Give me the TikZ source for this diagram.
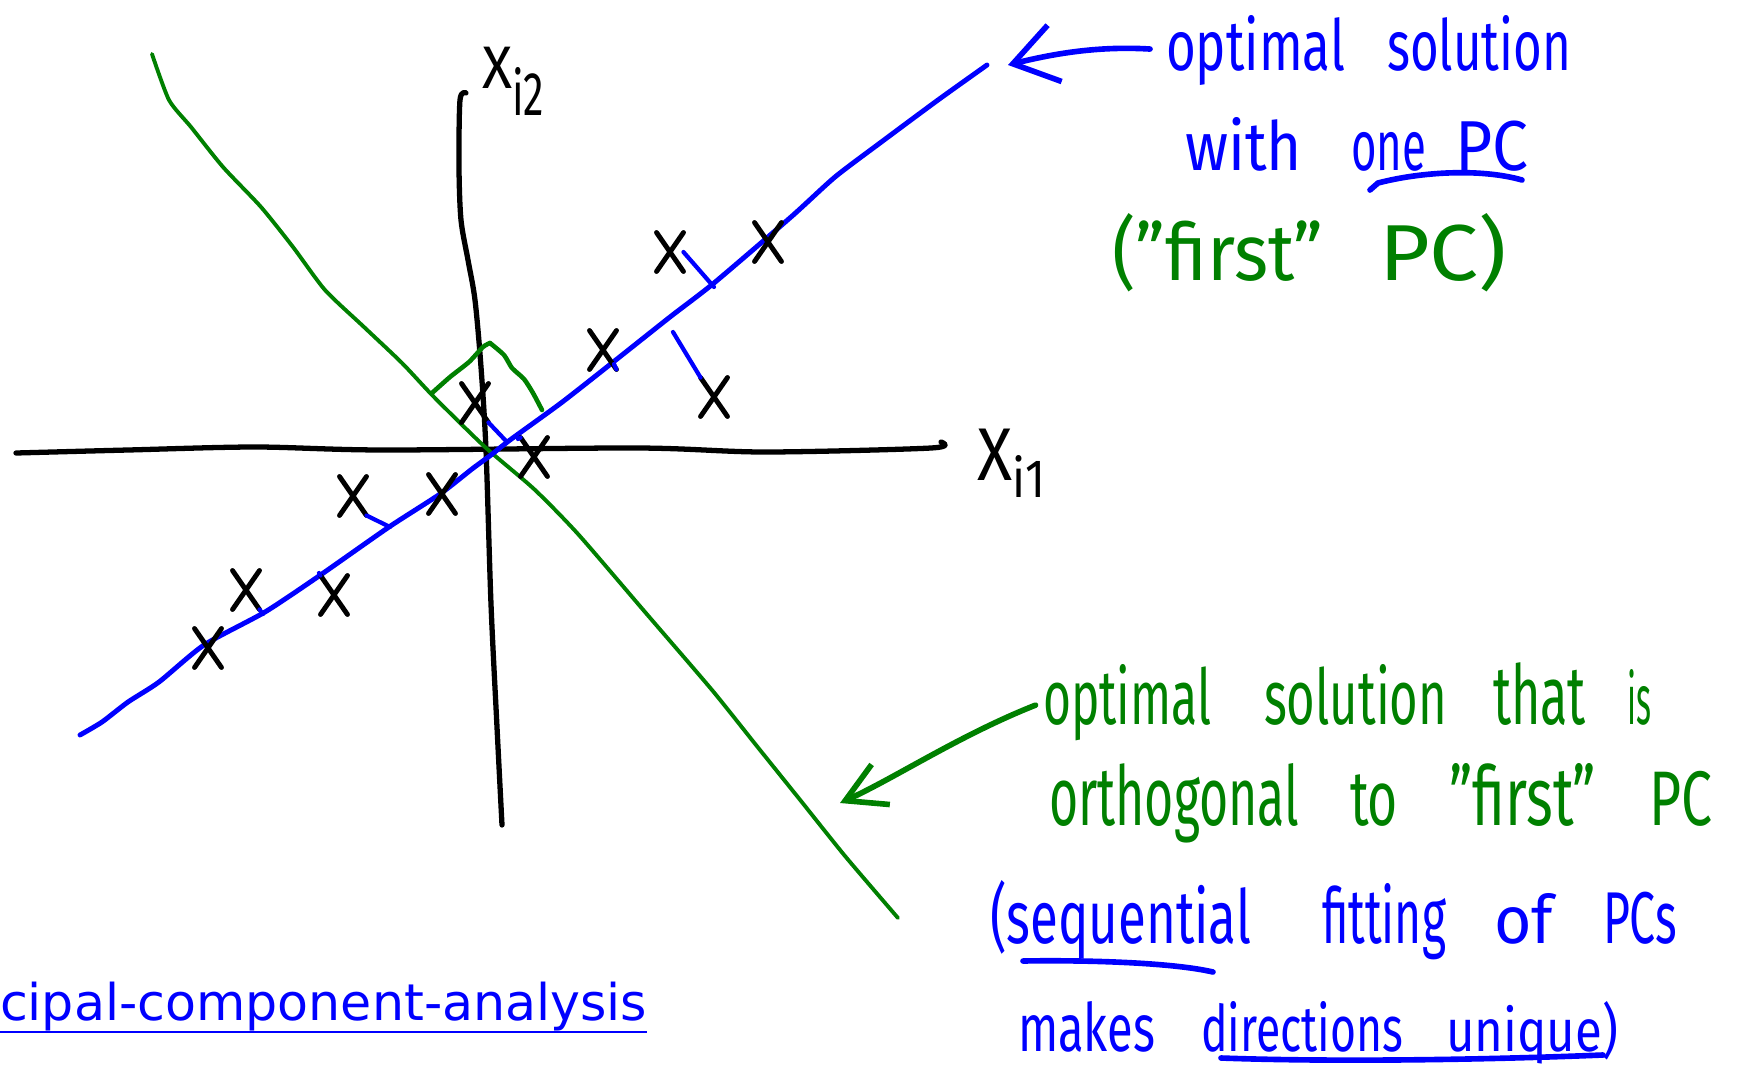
\documentclass[tikz,border=0pt]{standalone}
\usepackage{fontspec}
\setmainfont{Fira Sans}
\newfontfamily\linkfont{DejaVu Sans}
\usepackage{graphicx}
\usepackage{xcolor}
\usetikzlibrary{arrows.meta, shapes.misc, positioning}
\definecolor{penblue}{RGB}{0,0,255}
\definecolor{pengreen}{RGB}{0,128,0}
\tikzstyle{axisline} = [black, line width=1.5pt, line cap=round, line join=round]
\tikzstyle{pcone} = [penblue, line width=1.4pt, line cap=round, line join=round]
\tikzstyle{pctwo} = [pengreen, line width=1.1pt, line cap=round, line join=round]
\tikzstyle{proj} = [penblue, line width=1.2pt, line cap=round]
\tikzstyle{datapt} = [cross out, draw=black, line width=1.4pt, line cap=round, minimum width=0.22cm, minimum height=0.34cm, inner sep=0pt]
\tikzstyle{word} = [anchor=base west, inner sep=0pt, outer sep=0pt]
\tikzstyle{pen} = [line width=1.6pt, line cap=round]
% handwriting-like word: width, ascender height, text
\newcommand{\hw}[3]{\resizebox{#1}{#2}{\vphantom{lp}#3}}

\begin{document}
\begin{tikzpicture}[x=0.01cm, y=-0.01cm]
    \useasboundingbox (0,0) rectangle (1744,1066);

    % Axes
    \draw[axisline] plot[smooth, tension=0.5] coordinates {(16,453) (128,450) (255,447) (383,450) (638,448) (765,452) (931,448) (941,442)};
    \draw[axisline] plot[smooth, tension=0.5] coordinates {(466,93) (460,100) (459,167) (461,220) (468,260) (475,300) (481,367) (486,450) (491,604) (497,727) (502,825)};
    \node[word] (x2) at (482,88) {\hw{0.30cm}{0.45cm}{X}};
    \node[word] (x2sub) at ([yshift=-0.27cm]x2.base east) {\hw{0.32cm}{0.48cm}{i2}};
    \node[word] (x1) at (977,480) {\hw{0.35cm}{0.56cm}{X}};
    \node[word] (x1sub) at ([yshift=-0.17cm]x1.base east) {\hw{0.33cm}{0.42cm}{i1}};

    % Principal components
    \draw[pctwo] plot[smooth, tension=0.4] coordinates {(152,54) (169,100) (191,127) (223,167) (261,207) (293,247) (325,290) (364,327) (402,363) (434,397) (485,447) (534,489) (578,534) (645,612) (712,690) (756,745) (801,801) (845,856) (898,918)};
    \draw[pcone] plot[smooth, tension=0.4] coordinates {(80,735) (102,722) (128,702) (159,682) (204,645) (265,612) (319,576) (389,527) (440,494) (472,469) (491,455) (510,440) (561,403) (612,363) (670,317) (714,283) (791,217) (835,177) (880,143) (938,100) (987,65)};
    \draw[pctwo, line width=1.3pt] plot[smooth, tension=0.4] coordinates {(432,393) (450,377) (469,362) (483,347) (490,343)};
    \draw[pctwo, line width=1.3pt] plot[smooth, tension=0.4] coordinates {(490,343) (504,355) (512,368) (524,379) (533,393) (542,410)};

    % Data points
    \node[datapt] (p1) at (670,252) {};
    \node[datapt] (p2) at (768,242) {};
    \node[datapt] (p3) at (603,350) {};
    \node[datapt] (p4) at (714,397) {};
    \node[datapt] (p5) at (475,403) {};
    \node[datapt] (p6) at (534,457) {};
    \node[datapt] (p7) at (353,496) {};
    \node[datapt] (p8) at (442,494) {};
    \node[datapt] (p9) at (246,590) {};
    \node[datapt] (p10) at (334,595) {};
    \node[datapt] (p11) at (208,648) {};

    % Projections onto first PC
    \coordinate (f1) at (714,287);
    \coordinate (f3) at (614,364);
    \coordinate (f4) at (673,332);
    \coordinate (f5) at (507,442);
    \coordinate (f6) at (518,439);
    \coordinate (f7) at (390,527);
    \coordinate (f9) at (263,614);
    \coordinate (f10) at (319,573);
    \draw[proj] (p1.east) -- (f1);
    \draw[proj] (p3.south east) -- (f3);
    \draw[proj] (p4.north west) -- (f4);
    \draw[proj] (p5.south east) -- (f5);
    \draw[proj] (p6.north west) -- (f6);
    \draw[proj] (p7.south east) -- (f7);
    \draw[proj] (p9.south east) -- (f9);
    \draw[proj] (p10.north west) -- (f10);

    % Note on first PC (blue)
    \node[word, penblue] (optA) at (1166,70) {\hw{1.79cm}{0.55cm}{optimal}};
    \node[word, penblue] (solA) at (1387,70) {\hw{1.84cm}{0.55cm}{solution}};
    \node[word, penblue] (withB) at (1185,170) {\hw{1.17cm}{0.53cm}{with}};
    \node[word, penblue] (oneB) at (1351,170) {\hw{0.75cm}{0.53cm}{one}};
    \node[word, penblue] (pcB) at (1455,170) {\hw{0.73cm}{0.53cm}{PC}};
    \node[word, pengreen] (firstC) at (1112,280) {\hw{2.11cm}{0.67cm}{("first"}};
    \node[word, pengreen] (pcC) at (1379,280) {\hw{1.28cm}{0.67cm}{PC)}};
    \draw[pen, penblue] (1370,190) -- (1378,183) .. controls (1420,172) and (1480,168) .. (1522,180);

    % Note on second PC (green)
    \node[word, pengreen] (optD) at (1043,724) {\hw{1.68cm}{0.60cm}{optimal}};
    \node[word, pengreen] (solD) at (1264,724) {\hw{1.83cm}{0.60cm}{solution}};
    \node[word, pengreen] (thatD) at (1493,724) {\hw{0.93cm}{0.62cm}{that}};
    \node[word, pengreen] (isD) at (1627,724) {\hw{0.24cm}{0.55cm}{is}};
    \node[word, pengreen] (orthE) at (1049,825) {\hw{2.50cm}{0.62cm}{orthogonal}};
    \node[word, pengreen] (toE) at (1350,825) {\hw{0.48cm}{0.58cm}{to}};
    \node[word, pengreen] (firstE) at (1449,825) {\hw{1.47cm}{0.62cm}{"first"}};
    \node[word, pengreen] (pcE) at (1649,825) {\hw{0.63cm}{0.58cm}{PC}};
    \node[word, penblue] (seqF) at (990,943) {\hw{2.61cm}{0.63cm}{(sequential}};
    \node[word, penblue] (fitF) at (1322,943) {\hw{1.24cm}{0.60cm}{fitting}};
    \node[word, penblue] (ofF) at (1494,943) {\hw{0.59cm}{0.50cm}{of}};
    \node[word, penblue] (pcsF) at (1603,943) {\hw{0.74cm}{0.55cm}{PCs}};
    \node[word, penblue] (makesG) at (1018,1051) {\hw{1.37cm}{0.50cm}{makes}};
    \node[word, penblue] (dirG) at (1201,1051) {\hw{2.02cm}{0.50cm}{directions}};
    \node[word, penblue] (uniqG) at (1446,1051) {\hw{1.72cm}{0.50cm}{unique)}};
    \draw[pen, penblue] (1023,961) .. controls (1080,960) and (1170,962) .. (1213,972);
    \draw[pen, penblue] (1221,1058) .. controls (1330,1062) and (1480,1060) .. (1603,1055);

    % Arrows
    \coordinate (tipA) at (1008,65);
    \coordinate (tipD) at (840,803);
    \draw[pen, penblue, -{Straight Barb[length=4.3mm, width=5.8mm]}, shorten <=0.16cm] (optA.west) .. controls (1100,46) and (1056,53) .. (tipA);
    \draw[pen, pengreen, -{Straight Barb[length=3.9mm, width=4.4mm]}, shorten <=0.08cm] (optD.west) .. controls (960,735) and (895,778) .. (tipD);

    % Link
    \node[word, penblue, font=\linkfont\fontsize{14.4}{16}\selectfont] (link) at (0,1020) {cipal-component-analysis};
    \draw[penblue, line width=0.8pt] (link.base west) ++(0,12) -- (647,1032);
\end{tikzpicture}
\end{document}
